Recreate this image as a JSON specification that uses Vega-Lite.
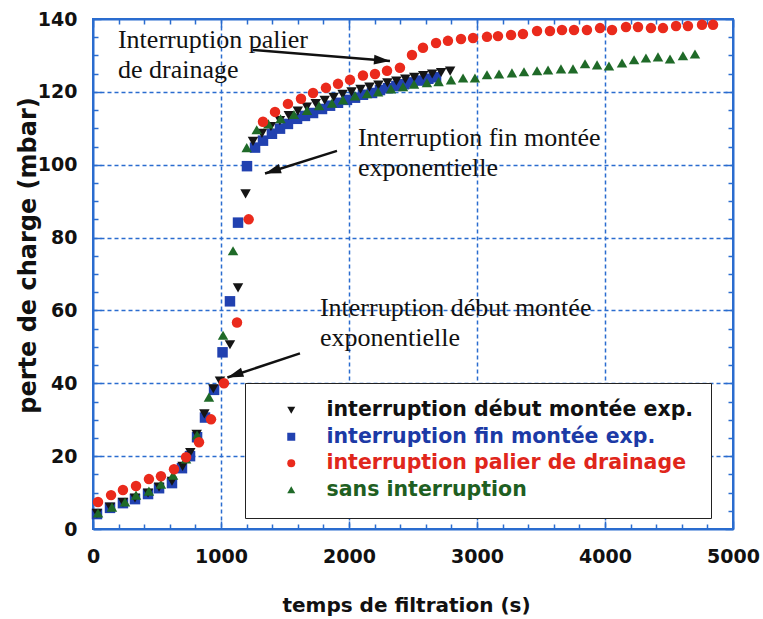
{
  "$schema": "https://vega.github.io/schema/vega-lite/v6.json",
  "width": 640,
  "height": 510,
  "autosize": "none",
  "padding": {"left": 93, "top": 19, "right": 30, "bottom": 90},
  "background": "white",
  "config": {"view": {"stroke": "#2a6ccf", "strokeWidth": 2}, "font": "DejaVu Sans"},
  "datasets": {
    "pts": [
      {"s":"interruption fin montée exp.","t":31,"p":4.1},{"s":"interruption fin montée exp.","t":133,"p":5.8},{"s":"interruption fin montée exp.","t":234,"p":7.1},{"s":"interruption fin montée exp.","t":328,"p":8.2},{"s":"interruption fin montée exp.","t":430,"p":9.6},{"s":"interruption fin montée exp.","t":516,"p":11.2},{"s":"interruption fin montée exp.","t":617,"p":12.6},{"s":"interruption fin montée exp.","t":695,"p":16.7},{"s":"interruption fin montée exp.","t":758,"p":20},{"s":"interruption fin montée exp.","t":813,"p":25.2},{"s":"interruption fin montée exp.","t":875,"p":30.6},{"s":"interruption fin montée exp.","t":946,"p":38.2},{"s":"interruption fin montée exp.","t":1012,"p":48.5},{"s":"interruption fin montée exp.","t":1070,"p":62.5},{"s":"interruption fin montée exp.","t":1133,"p":84.1},{"s":"interruption fin montée exp.","t":1203,"p":99.6},{"s":"interruption fin montée exp.","t":1266,"p":104.7},{"s":"interruption fin montée exp.","t":1328,"p":106.6},{"s":"interruption fin montée exp.","t":1398,"p":108.5},{"s":"interruption fin montée exp.","t":1461,"p":109.9},{"s":"interruption fin montée exp.","t":1523,"p":111.2},{"s":"interruption fin montée exp.","t":1594,"p":112.6},{"s":"interruption fin montée exp.","t":1656,"p":113.4},{"s":"interruption fin montée exp.","t":1719,"p":114.2},{"s":"interruption fin montée exp.","t":1789,"p":115.3},{"s":"interruption fin montée exp.","t":1852,"p":116.2},{"s":"interruption fin montée exp.","t":1914,"p":117},{"s":"interruption fin montée exp.","t":1984,"p":117.8},{"s":"interruption fin montée exp.","t":2047,"p":118.4},{"s":"interruption fin montée exp.","t":2109,"p":119.2},{"s":"interruption fin montée exp.","t":2180,"p":119.7},{"s":"interruption fin montée exp.","t":2242,"p":120.5},{"s":"interruption fin montée exp.","t":2305,"p":121},{"s":"interruption fin montée exp.","t":2370,"p":121.6},{"s":"interruption fin montée exp.","t":2430,"p":122.1},{"s":"interruption fin montée exp.","t":2495,"p":122.6},{"s":"interruption fin montée exp.","t":2555,"p":123.1},{"s":"interruption fin montée exp.","t":2620,"p":123.6},{"s":"interruption fin montée exp.","t":2680,"p":124},
      {"s":"interruption début montée exp.","t":31,"p":4.3},{"s":"interruption début montée exp.","t":133,"p":6},{"s":"interruption début montée exp.","t":234,"p":7.3},{"s":"interruption début montée exp.","t":328,"p":8.5},{"s":"interruption début montée exp.","t":430,"p":9.9},{"s":"interruption début montée exp.","t":516,"p":11.5},{"s":"interruption début montée exp.","t":617,"p":13.1},{"s":"interruption début montée exp.","t":700,"p":17.2},{"s":"interruption début montée exp.","t":760,"p":21},{"s":"interruption début montée exp.","t":810,"p":26},{"s":"interruption début montée exp.","t":870,"p":31.6},{"s":"interruption début montée exp.","t":940,"p":38.5},{"s":"interruption début montée exp.","t":992,"p":40.6},{"s":"interruption début montée exp.","t":1070,"p":50.6},{"s":"interruption début montée exp.","t":1133,"p":66.2},{"s":"interruption début montée exp.","t":1192,"p":92},{"s":"interruption début montée exp.","t":1250,"p":106.4},{"s":"interruption début montée exp.","t":1320,"p":108.6},{"s":"interruption début montée exp.","t":1390,"p":110.5},{"s":"interruption début montée exp.","t":1460,"p":112.1},{"s":"interruption début montée exp.","t":1530,"p":113.5},{"s":"interruption début montée exp.","t":1600,"p":114.7},{"s":"interruption début montée exp.","t":1670,"p":115.8},{"s":"interruption début montée exp.","t":1740,"p":116.8},{"s":"interruption début montée exp.","t":1810,"p":117.7},{"s":"interruption début montée exp.","t":1880,"p":118.5},{"s":"interruption début montée exp.","t":1950,"p":119.3},{"s":"interruption début montée exp.","t":2020,"p":120},{"s":"interruption début montée exp.","t":2090,"p":120.7},{"s":"interruption début montée exp.","t":2160,"p":121.3},{"s":"interruption début montée exp.","t":2230,"p":121.9},{"s":"interruption début montée exp.","t":2300,"p":122.5},{"s":"interruption début montée exp.","t":2370,"p":123},{"s":"interruption début montée exp.","t":2440,"p":123.5},{"s":"interruption début montée exp.","t":2510,"p":124},{"s":"interruption début montée exp.","t":2580,"p":124.5},{"s":"interruption début montée exp.","t":2650,"p":124.9},{"s":"interruption début montée exp.","t":2720,"p":125.3},{"s":"interruption début montée exp.","t":2790,"p":125.7},
      {"s":"sans interruption","t":39,"p":4.4},{"s":"sans interruption","t":148,"p":6},{"s":"sans interruption","t":250,"p":7.4},{"s":"sans interruption","t":336,"p":9.3},{"s":"sans interruption","t":437,"p":10.4},{"s":"sans interruption","t":531,"p":12.3},{"s":"sans interruption","t":625,"p":14.8},{"s":"sans interruption","t":727,"p":19.2},{"s":"sans interruption","t":813,"p":25.8},{"s":"sans interruption","t":906,"p":36.2},{"s":"sans interruption","t":1016,"p":53.2},{"s":"sans interruption","t":1094,"p":76.4},{"s":"sans interruption","t":1201,"p":104.7},{"s":"sans interruption","t":1279,"p":109.6},{"s":"sans interruption","t":1370,"p":111.2},{"s":"sans interruption","t":1465,"p":112.6},{"s":"sans interruption","t":1570,"p":113.8},{"s":"sans interruption","t":1672,"p":114.9},{"s":"sans interruption","t":1766,"p":116.2},{"s":"sans interruption","t":1867,"p":116.9},{"s":"sans interruption","t":1953,"p":117.8},{"s":"sans interruption","t":2047,"p":118.9},{"s":"sans interruption","t":2141,"p":119.5},{"s":"sans interruption","t":2227,"p":120},{"s":"sans interruption","t":2328,"p":120.8},{"s":"sans interruption","t":2422,"p":121.4},{"s":"sans interruption","t":2508,"p":122.1},{"s":"sans interruption","t":2609,"p":122.5},{"s":"sans interruption","t":2700,"p":122.8},{"s":"sans interruption","t":2797,"p":123.3},{"s":"sans interruption","t":2891,"p":123.8},{"s":"sans interruption","t":2984,"p":123.8},{"s":"sans interruption","t":3078,"p":124.7},{"s":"sans interruption","t":3172,"p":124.9},{"s":"sans interruption","t":3273,"p":125.2},{"s":"sans interruption","t":3367,"p":125.5},{"s":"sans interruption","t":3469,"p":125.8},{"s":"sans interruption","t":3555,"p":126},{"s":"sans interruption","t":3656,"p":126.3},{"s":"sans interruption","t":3750,"p":126.3},{"s":"sans interruption","t":3844,"p":127.7},{"s":"sans interruption","t":3938,"p":127.4},{"s":"sans interruption","t":4031,"p":127.1},{"s":"sans interruption","t":4133,"p":127.9},{"s":"sans interruption","t":4227,"p":128.8},{"s":"sans interruption","t":4320,"p":129.3},{"s":"sans interruption","t":4414,"p":129.6},{"s":"sans interruption","t":4508,"p":129},{"s":"sans interruption","t":4609,"p":129.9},{"s":"sans interruption","t":4703,"p":130.4},
      {"s":"interruption palier de drainage","t":39,"p":7.4},{"s":"interruption palier de drainage","t":141,"p":9.3},{"s":"interruption palier de drainage","t":234,"p":10.7},{"s":"interruption palier de drainage","t":336,"p":11.8},{"s":"interruption palier de drainage","t":437,"p":13.7},{"s":"interruption palier de drainage","t":531,"p":14.5},{"s":"interruption palier de drainage","t":633,"p":16.4},{"s":"interruption palier de drainage","t":727,"p":19.7},{"s":"interruption palier de drainage","t":828,"p":23.8},{"s":"interruption palier de drainage","t":922,"p":30.1},{"s":"interruption palier de drainage","t":1023,"p":40},{"s":"interruption palier de drainage","t":1125,"p":56.7},{"s":"interruption palier de drainage","t":1216,"p":85},{"s":"interruption palier de drainage","t":1328,"p":111.8},{"s":"interruption palier de drainage","t":1422,"p":114.5},{"s":"interruption palier de drainage","t":1523,"p":116.7},{"s":"interruption palier de drainage","t":1625,"p":118.1},{"s":"interruption palier de drainage","t":1719,"p":119.7},{"s":"interruption palier de drainage","t":1820,"p":121.1},{"s":"interruption palier de drainage","t":1914,"p":122.2},{"s":"interruption palier de drainage","t":2008,"p":123.3},{"s":"interruption palier de drainage","t":2109,"p":124.5},{"s":"interruption palier de drainage","t":2203,"p":124.9},{"s":"interruption palier de drainage","t":2297,"p":125.8},{"s":"interruption palier de drainage","t":2398,"p":126.6},{"s":"interruption palier de drainage","t":2492,"p":130.1},{"s":"interruption palier de drainage","t":2578,"p":132.1},{"s":"interruption palier de drainage","t":2680,"p":133.4},{"s":"interruption palier de drainage","t":2773,"p":134},{"s":"interruption palier de drainage","t":2875,"p":134.5},{"s":"interruption palier de drainage","t":2969,"p":134.8},{"s":"interruption palier de drainage","t":3078,"p":135.1},{"s":"interruption palier de drainage","t":3164,"p":135.3},{"s":"interruption palier de drainage","t":3266,"p":135.6},{"s":"interruption palier de drainage","t":3359,"p":135.9},{"s":"interruption palier de drainage","t":3469,"p":136.7},{"s":"interruption palier de drainage","t":3570,"p":136.7},{"s":"interruption palier de drainage","t":3664,"p":137},{"s":"interruption palier de drainage","t":3758,"p":137},{"s":"interruption palier de drainage","t":3859,"p":137},{"s":"interruption palier de drainage","t":3961,"p":137.5},{"s":"interruption palier de drainage","t":4055,"p":137},{"s":"interruption palier de drainage","t":4164,"p":137.8},{"s":"interruption palier de drainage","t":4258,"p":137.8},{"s":"interruption palier de drainage","t":4359,"p":137.5},{"s":"interruption palier de drainage","t":4453,"p":137.5},{"s":"interruption palier de drainage","t":4555,"p":138.1},{"s":"interruption palier de drainage","t":4648,"p":138.1},{"s":"interruption palier de drainage","t":4758,"p":138.4},{"s":"interruption palier de drainage","t":4844,"p":138.4}
    ],
    "notes": [
      {"x":195,"y":132.1,"text":"Interruption palier"},
      {"x":195,"y":123.8,"text":"de drainage"},
      {"x":2070,"y":105.2,"text":"Interruption fin montée"},
      {"x":2070,"y":97,"text":"exponentielle"},
      {"x":1773,"y":58.4,"text":"Interruption début montée"},
      {"x":1773,"y":50.1,"text":"exponentielle"}
    ],
    "arrows": [
      {"id":"a","x1":1250,"y1":131.5,"x2":2320,"y2":128.5},
      {"id":"b","x1":1906,"y1":103.8,"x2":1344,"y2":97.6},
      {"id":"c","x1":1617,"y1":48.2,"x2":1050,"y2":41.6}
    ]
  },
  "layer": [
    {
      "data": {"name": "pts"},
      "mark": {"type": "point", "filled": true, "opacity": 1, "size": 110, "strokeWidth": 0},
      "encoding": {
        "x": {
          "field": "t", "type": "quantitative",
          "scale": {"domain": [0, 5000], "nice": false, "zero": false},
          "axis": {
            "orient": "bottom",
            "values": [0,200,400,600,800,1000,1200,1400,1600,1800,2000,2200,2400,2600,2800,3000,3200,3400,3600,3800,4000,4200,4400,4600,4800,5000],
            "labelExpr": "datum.value % 1000 === 0 ? '' + datum.value : ''",
            "labelFont": "DejaVu Sans", "labelFontWeight": "bold", "labelFontSize": 19, "labelColor": "#111",
            "labelFlush": false, "labelOverlap": false, "labelPadding": 26,
            "tickSize": {"condition": {"test": "datum.value % 1000 === 0", "value": -8}, "value": -5},
            "tickColor": "#2a6ccf", "tickWidth": 1.5,
            "domainColor": "#2a6ccf", "domainWidth": 2,
            "grid": true, "gridColor": "#2a6ccf", "gridDash": [4, 3], "gridWidth": 1.5,
            "gridOpacity": {"condition": {"test": "datum.value % 1000 === 0 && datum.value > 0 && datum.value < 5000", "value": 1}, "value": 0},
            "title": "temps de filtration (s)",
            "titleFont": "DejaVu Sans", "titleFontWeight": "bold", "titleFontSize": 20, "titleColor": "#111",
            "titleX": 313, "titleY": 76, "titleBaseline": "middle"
          }
        },
        "y": {
          "field": "p", "type": "quantitative",
          "scale": {"domain": [0, 140], "nice": false, "zero": false},
          "axis": {
            "orient": "left",
            "values": [0,5,10,15,20,25,30,35,40,45,50,55,60,65,70,75,80,85,90,95,100,105,110,115,120,125,130,135,140],
            "labelExpr": "datum.value % 20 === 0 ? '' + datum.value : ''",
            "labelFont": "DejaVu Sans", "labelFontWeight": "bold", "labelFontSize": 19, "labelColor": "#111",
            "labelFlush": false, "labelOverlap": false, "labelPadding": 24,
            "tickSize": {"condition": {"test": "datum.value % 20 === 0", "value": -8}, "value": -5},
            "tickColor": "#2a6ccf", "tickWidth": 1.5,
            "domainColor": "#2a6ccf", "domainWidth": 2,
            "grid": true, "gridColor": "#2a6ccf", "gridDash": [4, 3], "gridWidth": 1.5,
            "gridOpacity": {"condition": {"test": "datum.value % 20 === 0 && datum.value > 0 && datum.value < 140", "value": 1}, "value": 0},
            "title": "perte de charge (mbar)",
            "titleFont": "DejaVu Sans", "titleFontWeight": "bold", "titleFontSize": 24, "titleColor": "#111",
            "titleX": -65, "titleY": 236, "titleBaseline": "middle", "titleAngle": -90
          }
        },
        "color": {
          "field": "s", "type": "nominal",
          "scale": {
            "domain": ["interruption début montée exp.", "interruption fin montée exp.", "interruption palier de drainage", "sans interruption"],
            "range": ["#151515", "#2141b0", "#ea2a1c", "#1f6a28"]
          },
          "legend": {
            "orient": "none", "legendX": 152, "legendY": 364,
            "title": null,
            "padding": 17, "strokeColor": "#222", "fillColor": "white",
            "symbolSize": 64, "symbolStrokeWidth": 0, "symbolOffset": 19,
            "labelOffset": 25, "rowPadding": 5.5,
            "labelFont": "DejaVu Sans", "labelFontWeight": "bold", "labelFontSize": 20.5, "labelLimit": 500,
            "labelColor": {"expr": "datum.value === 'interruption fin montée exp.' ? '#1c3aa6' : datum.value === 'interruption palier de drainage' ? '#e0261b' : datum.value === 'sans interruption' ? '#1f5f22' : '#111111'"}
          }
        },
        "shape": {
          "field": "s", "type": "nominal",
          "scale": {
            "domain": ["interruption début montée exp.", "interruption fin montée exp.", "interruption palier de drainage", "sans interruption"],
            "range": ["triangle-down", "square", "circle", "triangle-up"]
          },
          "legend": {
            "orient": "none", "legendX": 152, "legendY": 364,
            "title": null,
            "padding": 17, "strokeColor": "#222", "fillColor": "white",
            "symbolSize": 64, "symbolStrokeWidth": 0, "symbolOffset": 19,
            "labelOffset": 25, "rowPadding": 5.5,
            "labelFont": "DejaVu Sans", "labelFontWeight": "bold", "labelFontSize": 20.5, "labelLimit": 500,
            "labelColor": {"expr": "datum.value === 'interruption fin montée exp.' ? '#1c3aa6' : datum.value === 'interruption palier de drainage' ? '#e0261b' : datum.value === 'sans interruption' ? '#1f5f22' : '#111111'"}
          }
        }
      }
    },
    {
      "data": {"name": "notes"},
      "mark": {"type": "text", "font": "Liberation Serif", "fontSize": 26, "align": "left", "baseline": "alphabetic", "color": "#111"},
      "encoding": {
        "x": {
          "field": "x", "type": "quantitative",
          "scale": {"domain": [0, 5000], "nice": false, "zero": false},
          "axis": {
            "orient": "top", "labels": false, "title": null, "grid": false,
            "values": [0,200,400,600,800,1000,1200,1400,1600,1800,2000,2200,2400,2600,2800,3000,3200,3400,3600,3800,4000,4200,4400,4600,4800,5000],
            "tickSize": {"condition": {"test": "datum.value % 1000 === 0", "value": -8}, "value": -5},
            "tickColor": "#2a6ccf", "tickWidth": 1.5, "domainColor": "#2a6ccf", "domainWidth": 2
          }
        },
        "y": {
          "field": "y", "type": "quantitative",
          "scale": {"domain": [0, 140], "nice": false, "zero": false},
          "axis": {
            "orient": "right", "labels": false, "title": null, "grid": false,
            "values": [0,5,10,15,20,25,30,35,40,45,50,55,60,65,70,75,80,85,90,95,100,105,110,115,120,125,130,135,140],
            "tickSize": {"condition": {"test": "datum.value % 20 === 0", "value": -8}, "value": -5},
            "tickColor": "#2a6ccf", "tickWidth": 1.5, "domainColor": "#2a6ccf", "domainWidth": 2
          }
        },
        "text": {"field": "text"}
      }
    },
    {
      "data": {"name": "arrows"},
      "mark": {"type": "rule", "color": "#111", "strokeWidth": 2.5},
      "encoding": {
        "x": {"field": "x1", "type": "quantitative", "scale": {"domain": [0, 5000], "nice": false, "zero": false}, "axis": null},
        "x2": {"field": "x2"},
        "y": {"field": "y1", "type": "quantitative", "scale": {"domain": [0, 140], "nice": false, "zero": false}, "axis": null},
        "y2": {"field": "y2"}
      }
    },
    {
      "data": {"name": "arrows"},
      "transform": [{"filter": "datum.id === 'a'"}],
      "mark": {"type": "point", "filled": true, "color": "#111", "opacity": 1, "strokeWidth": 0, "size": 256, "angle": 94.6, "shape": "M0,0L0.6,2L-0.6,2Z"},
      "encoding": {
        "x": {"field": "x2", "type": "quantitative", "scale": {"domain": [0, 5000], "nice": false, "zero": false}, "axis": null},
        "y": {"field": "y2", "type": "quantitative", "scale": {"domain": [0, 140], "nice": false, "zero": false}, "axis": null}
      }
    },
    {
      "data": {"name": "arrows"},
      "transform": [{"filter": "datum.id === 'b'"}],
      "mark": {"type": "point", "filled": true, "color": "#111", "opacity": 1, "strokeWidth": 0, "size": 256, "angle": 252.3, "shape": "M0,0L0.6,2L-0.6,2Z"},
      "encoding": {
        "x": {"field": "x2", "type": "quantitative", "scale": {"domain": [0, 5000], "nice": false, "zero": false}, "axis": null},
        "y": {"field": "y2", "type": "quantitative", "scale": {"domain": [0, 140], "nice": false, "zero": false}, "axis": null}
      }
    },
    {
      "data": {"name": "arrows"},
      "transform": [{"filter": "datum.id === 'c'"}],
      "mark": {"type": "point", "filled": true, "color": "#111", "opacity": 1, "strokeWidth": 0, "size": 256, "angle": 251.1, "shape": "M0,0L0.6,2L-0.6,2Z"},
      "encoding": {
        "x": {"field": "x2", "type": "quantitative", "scale": {"domain": [0, 5000], "nice": false, "zero": false}, "axis": null},
        "y": {"field": "y2", "type": "quantitative", "scale": {"domain": [0, 140], "nice": false, "zero": false}, "axis": null}
      }
    }
  ],
  "resolve": {"scale": {"x": "independent", "y": "independent"}, "axis": {"x": "independent", "y": "independent"}}
}
